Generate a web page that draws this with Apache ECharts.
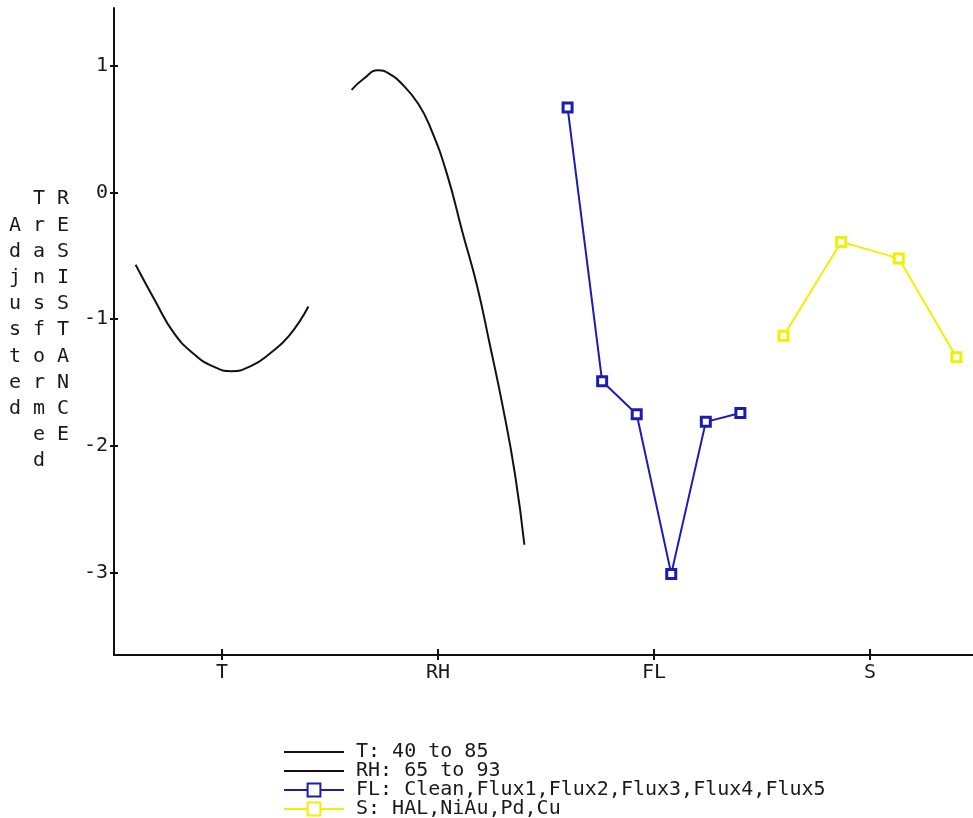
<!DOCTYPE html>
<html>
<head>
<meta charset="utf-8">
<script src="https://cdn.jsdelivr.net/npm/echarts@6/dist/echarts.min.js"></script>
<style>
  html, body { margin: 0; padding: 0; background: #fff; }
  #main { width: 973px; height: 818px; }
</style>
</head>
<body>
<div id="main"></div>
<script>
// 数据
const groups = ['T', 'RH', 'FL', 'S']
const tempVals = [40, 45, 50, 55, 60, 65, 70, 75, 80, 85]
const tempResp = [-0.57, -0.85, -1.11, -1.27, -1.37, -1.41, -1.37, -1.27, -1.13, -0.90]
const rhVals = [65, 67, 69.3, 71, 73.3, 75.8, 77.7, 80.4, 83, 85.3, 87.4, 89.5, 91.5, 93]
const rhResp = [0.81, 0.90, 0.965, 0.94, 0.85, 0.70, 0.52, 0.155, -0.32, -0.73, -1.20, -1.69, -2.23, -2.78]
const fluxLevels = ['Clean', 'Flux1', 'Flux2', 'Flux3', 'Flux4', 'Flux5']
const fluxResp = [0.67, -1.49, -1.75, -3.01, -1.81, -1.74]
const surfLevels = ['HAL', 'NiAu', 'Pd', 'Cu']
const surfResp = [-1.13, -0.39, -0.52, -1.30]
const yTicks = [-3, -2, -1, 0, 1]

const mono = '"DejaVu Sans Mono", monospace'
const ink = '#111'
const textInk = '#1a1a1a'
const blue = '#1c1cb0'
const yellow = '#f0f000'

// 每个因子占一个单位宽度, 数据画在 0.1 ~ 0.9 之间
const place = (g, frac) => g + 0.1 + 0.8 * frac
const xTicks = groups.map((g, i) => i + 0.5)

const tData = tempVals.map((t, i) => [place(0, (t - tempVals[0]) / (tempVals[tempVals.length - 1] - tempVals[0])), tempResp[i]])
const rhData = rhVals.map((h, i) => [place(1, (h - rhVals[0]) / (rhVals[rhVals.length - 1] - rhVals[0])), rhResp[i]])
const flData = fluxResp.map((v, i) => [place(2, i / (fluxResp.length - 1)), v])
const sData = surfResp.map((v, i) => [place(3, i / (surfResp.length - 1)), v])

const names = [
  'T: ' + tempVals[0] + ' to ' + tempVals[tempVals.length - 1],
  'RH: ' + rhVals[0] + ' to ' + rhVals[rhVals.length - 1],
  'FL: ' + fluxLevels.join(','),
  'S: ' + surfLevels.join(',')
]

// 竖排的 y 轴标题
const titleWords = ['Adjusted', 'Transformed', 'RESISTANCE']
const titleStart = [1, 0, 0]
const titleX = [15, 39, 63]
const rowH = 26.2
const titleGraphic = titleWords.map((w, i) => ({
  type: 'text',
  x: titleX[i],
  y: 186 + titleStart[i] * rowH,
  style: {
    text: w.split('').join('\n'),
    font: '20px ' + mono,
    fill: textInk,
    align: 'center',
    verticalAlign: 'top',
    lineHeight: rowH
  }
}))

const xMin = 0, xMax = 3.977
const yMin = -3.65, yMax = 1.456

const dom = document.getElementById('main')
const myChart = echarts.init(dom)

const option = {
  animation: false,
  grid: { left: 114, right: 0, top: 8, bottom: 163, containLabel: false, outerBoundsMode: 'none' },
  xAxis: [
    {
      type: 'value', min: xMin, max: xMax,
      axisLine: { onZero: false, lineStyle: { color: ink, width: 2 } },
      axisTick: { customValues: xTicks, length: 5, lineStyle: { color: ink, width: 2 } },
      axisLabel: {
        customValues: xTicks,
        formatter: v => groups[Math.floor(v)],
        margin: 8, fontFamily: mono, fontSize: 20, color: textInk
      },
      splitLine: { show: false }
    },
    {
      // 往里的刻度, 让刻度线穿过轴线
      type: 'value', min: xMin, max: xMax, position: 'bottom',
      axisLine: { show: false, onZero: false },
      axisTick: { inside: true, customValues: xTicks, length: 6, lineStyle: { color: ink, width: 2 } },
      axisLabel: { show: false },
      splitLine: { show: false }
    }
  ],
  yAxis: [
    {
      type: 'value', min: yMin, max: yMax,
      axisLine: { show: true, onZero: false, lineStyle: { color: ink, width: 2 } },
      axisTick: { show: true, customValues: yTicks, length: 4, lineStyle: { color: ink, width: 2 } },
      axisLabel: { customValues: yTicks, margin: 6, fontFamily: mono, fontSize: 20, color: textInk },
      splitLine: { show: false }
    },
    {
      type: 'value', min: yMin, max: yMax, position: 'left',
      axisLine: { show: false, onZero: false },
      axisTick: { show: true, inside: true, customValues: yTicks, length: 4, lineStyle: { color: ink, width: 2 } },
      axisLabel: { show: false },
      splitLine: { show: false }
    }
  ],
  legend: {
    orient: 'vertical',
    left: 283,
    top: 742,
    height: 100,
    padding: 0,
    itemWidth: 60,
    itemHeight: 16,
    itemGap: -1,
    data: [
      { name: names[0], itemStyle: { opacity: 0 } },
      { name: names[1], itemStyle: { opacity: 0 } },
      { name: names[2] },
      { name: names[3] }
    ],
    textStyle: { fontFamily: mono, fontSize: 20, color: textInk, lineHeight: 19, padding: [0, 0, 0, 7] }
  },
  graphic: titleGraphic,
  series: [
    {
      name: names[0], type: 'line', data: tData, smooth: true, symbol: 'none',
      lineStyle: { color: ink, width: 2 }, itemStyle: { color: ink }
    },
    {
      name: names[1], type: 'line', data: rhData, smooth: true, symbol: 'none',
      lineStyle: { color: ink, width: 2 }, itemStyle: { color: ink }
    },
    {
      name: names[2], type: 'line', data: flData, symbol: 'rect', symbolSize: 9,
      lineStyle: { color: blue, width: 2 },
      itemStyle: { color: '#fff', borderColor: blue, borderWidth: 3 }
    },
    {
      name: names[3], type: 'line', data: sData, symbol: 'rect', symbolSize: 9,
      lineStyle: { color: yellow, width: 2 },
      itemStyle: { color: '#fff', borderColor: yellow, borderWidth: 3 }
    }
  ]
}

myChart.setOption(option)
</script>
</body>
</html>
